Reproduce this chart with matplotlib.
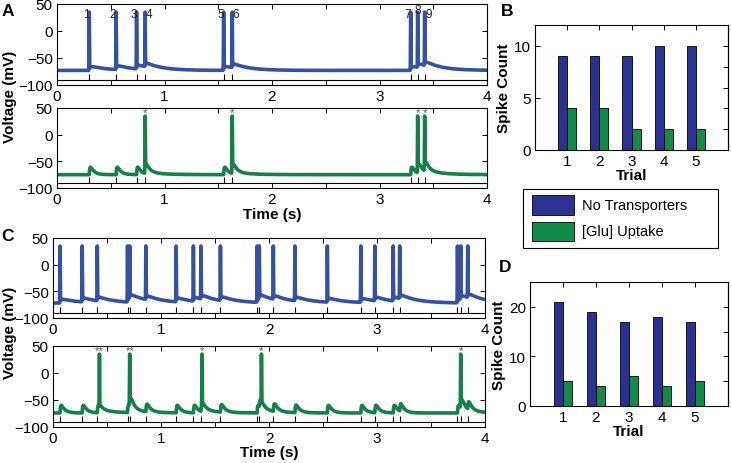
import numpy as np
import matplotlib
matplotlib.use("Agg")
import matplotlib.pyplot as plt
from matplotlib.patches import Rectangle

plt.rcParams['font.family'] = ['Liberation Sans', 'DejaVu Sans']
plt.rcParams['axes.unicode_minus'] = True

# ---------------- data ----------------
# Panel A: input (stimulus) times, s
a_inputs = [0.30, 0.55, 0.74, 0.82, 1.55, 1.63, 3.29, 3.355, 3.42]
a_spikes_noT = [0.30, 0.55, 0.74, 0.82, 1.55, 1.63, 3.29, 3.355, 3.42]
a_spikes_glu = [0.82, 1.63, 3.355, 3.42]
a_spike_labels = ['1', '2', '3', '4', '5', '6', '7', '8', '9']
a_glu_marks = ['*', '*', '*', '*']

# Panel C
c_inputs = [0.065, 0.27, 0.41, 0.69, 0.71, 0.86, 1.14, 1.30, 1.37, 1.55,
            1.89, 1.91, 2.04, 2.24, 2.54, 2.85, 2.98, 3.15, 3.21, 3.745,
            3.775, 3.84]
c_spikes_noT = c_inputs
c_spikes_glu = [0.43, 0.71, 1.38, 1.93, 3.775]
c_glu_marks = ['**', '**', '*', '*', '*']

# resting potentials (mV) and spike peak
rest_a_noT, rest_a_glu = -73.0, -75.0
rest_c_noT, rest_c_glu = -72.0, -74.0
spike_peak = 35.0

# Panels B, D: spike counts per trial
trials = [1, 2, 3, 4, 5]
b_noT = [9, 9, 9, 10, 10]
b_glu = [4, 4, 2, 2, 2]
d_noT = [21, 19, 17, 18, 17]
d_glu = [5, 4, 6, 4, 5]
legend_labels = ['No Transporters', '[Glu] Uptake']

# ---------------- style ----------------
BLUE_TR = '#3552A2'
GREEN_TR = '#17804A'
BLUE_BAR = '#2B3190'
GREEN_BAR = '#128A48'
FS = 11

t = np.linspace(0, 4, 8001)


def kern(dt, tr, td):
    d = np.clip(dt, 0, None)
    k = np.where(dt > 0, np.exp(-d / td) - np.exp(-d / tr), 0.0)
    return k / k.max() if k.max() > 0 else k


def trace(rest, inputs, spikes, epsp_amp, after_amp):
    v = np.full_like(t, rest)
    for ti in inputs:
        v += epsp_amp * kern(t - ti, 0.005, 0.035)
    for ts in spikes:
        v += after_amp * kern(t - ts, 0.008, 0.15)
    vsub = v.copy()
    for ts in spikes:
        i = np.argmin(np.abs(t - ts))
        v += (spike_peak - vsub[i]) * np.exp(-0.5 * ((t - ts) / 0.0016) ** 2)
    return v


fig = plt.figure(figsize=(7.32, 4.64), dpi=100)
W, H = 732.0, 464.0


def box(x0, y0, x1, y1):
    return [x0 / W, 1 - y1 / H, (x1 - x0) / W, (y1 - y0) / H]


def volt_axes(rect, v, color, inputs):
    ax = fig.add_axes(rect)
    ax.plot(t, v, color=color, lw=2.6, solid_capstyle='butt')
    ax.hlines(-90, 0, 4, color='black', lw=0.8)
    ax.vlines(inputs, -91, -79, color='black', lw=0.8)
    ax.set_xlim(0, 4)
    ax.set_ylim(-100, 50)
    ax.set_xticks(np.arange(0, 4.01, 0.5))
    ax.set_xticklabels(['0', '', '1', '', '2', '', '3', '', '4'])
    ax.set_yticks([-100, -50, 0, 50])
    ax.tick_params(direction='in', top=True, right=True, length=3.5, width=0.7,
                   labelsize=FS, pad=3)
    for s in ax.spines.values():
        s.set_linewidth(0.8)
    return ax


# Panel A
axA1 = volt_axes(box(57, 5, 487, 86),
                 trace(rest_a_noT, a_inputs, a_spikes_noT, 0.0, 7.0), BLUE_TR, a_inputs)
axA2 = volt_axes(box(57, 109, 487, 189),
                 trace(rest_a_glu, a_inputs, a_spikes_glu, 14.0, 4.0), GREEN_TR, a_inputs)
label_dx = [-0.03, -0.03, -0.03, 0.035, -0.03, 0.035, -0.03, 0.0, 0.035]
label_dy = [0, 0, 0, 0, 0, 0, 0, 7, 0]
for ts, lab, dx, dy in zip(a_spikes_noT, a_spike_labels, label_dx, label_dy):
    axA1.text(ts + dx, 31 + dy, lab, fontsize=8.5, ha='center', va='center', color='#222222')
for ts, m in zip(a_spikes_glu, a_glu_marks):
    axA2.text(ts, 42, m, fontsize=8, ha='center', va='center', color='#555555')

# Panel C
axC1 = volt_axes(box(53, 239, 485, 319),
                 trace(rest_c_noT, c_inputs, c_spikes_noT, 0.0, 7.0), BLUE_TR, c_inputs)
axC2 = volt_axes(box(53, 347, 485, 428),
                 trace(rest_c_glu, c_inputs, c_spikes_glu, 14.0, 4.0), GREEN_TR, c_inputs)
for ts, m in zip(c_spikes_glu, c_glu_marks):
    axC2.text(ts, 42, m, fontsize=8, ha='center', va='center', color='#555555')

# labels
for (yc, ya, xa) in [(97, 215, 272), (333, 453, 269)]:
    fig.text(10 / W, 1 - yc / H, 'Voltage (mV)', rotation=90, ha='center', va='center',
             fontsize=FS, fontweight='bold')
    fig.text(xa / W, 1 - ya / H, 'Time (s)', ha='center', va='center',
             fontsize=FS, fontweight='bold')
for lab, x, y in [('A', 8, 12), ('B', 507, 12), ('C', 8, 237), ('D', 505, 268)]:
    fig.text(x / W, 1 - y / H, lab, ha='center', va='center', fontsize=12.5, fontweight='bold')


def bar_axes(rect, blue, green, ymax, lab_ticks, right_ticks):
    ax = fig.add_axes(rect)
    x = np.array(trials, dtype=float)
    ax.bar(x - 0.14, blue, width=0.28, color=BLUE_BAR, edgecolor='black', lw=0.6)
    ax.bar(x + 0.14, green, width=0.28, color=GREEN_BAR, edgecolor='black', lw=0.6)
    ax.set_xlim(0, 6)
    ax.set_ylim(0, ymax)
    ax.set_xticks(trials)
    ax.set_yticks(lab_ticks)
    ax.tick_params(direction='in', top=True, length=3.5, width=0.7, labelsize=FS, pad=3)
    sec = ax.secondary_yaxis('right')
    sec.set_yticks(right_ticks)
    sec.tick_params(direction='in', length=3.5, width=0.7, labelright=False)
    for s in list(ax.spines.values()) + list(sec.spines.values()):
        s.set_linewidth(0.8)
    ax.set_xlabel('Trial', fontsize=FS, fontweight='bold', labelpad=0)
    ax.set_ylabel('Spike Count', fontsize=FS, fontweight='bold', labelpad=2)
    return ax


axB = bar_axes(box(535, 26, 728, 151), b_noT, b_glu, 12, [0, 5, 10], [2, 4, 6, 8, 10])
axD = bar_axes(box(530, 283, 728, 407), d_noT, d_glu, 25, [0, 10, 20], [5, 10, 15, 20])

# legend drawn in figure pixels
tr = fig.transFigure
fig.patches.append(Rectangle((523 / W, 1 - 249 / H), 195 / W, 59 / H, transform=tr,
                             facecolor='white', edgecolor='black', lw=0.8))
for (y0, y1), col, lab in zip([(196, 216), (223, 242)], [BLUE_BAR, GREEN_BAR], legend_labels):
    fig.patches.append(Rectangle((532 / W, 1 - y1 / H), 42 / W, (y1 - y0) / H, transform=tr,
                                 facecolor=col, edgecolor='black', lw=0.6))
    fig.text(582 / W, 1 - ((y0 + y1) / 2) / H, lab, ha='left', va='center', fontsize=10.5)

fig.savefig('out.png', dpi=100)
